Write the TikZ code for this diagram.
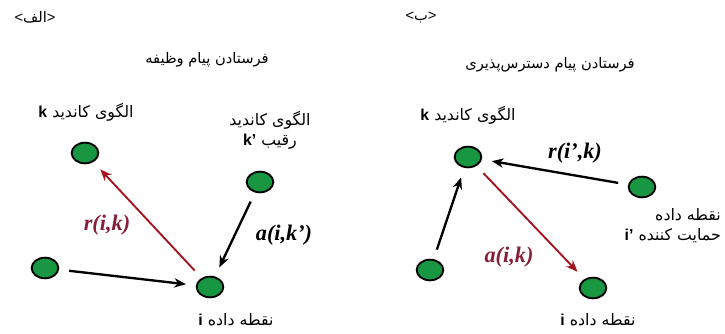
\documentclass[tikz,border=0pt]{standalone}
\usepackage{fontspec}
\setmainfont{Liberation Sans}
\newfontfamily\fafont[Script=Arabic]{DejaVu Sans}
\newfontfamily\lblfont{Liberation Serif}
\TeXXeTstate=1
\usetikzlibrary{shapes.geometric, arrows.meta}
\definecolor{ptgreen}{RGB}{25, 150, 65}
\definecolor{msgred}{RGB}{165, 20, 30}
\definecolor{lblred}{RGB}{135, 30, 55}

\begin{document}
\begin{tikzpicture}[x=0.03cm, y=-0.03cm,
  datapt/.style={ellipse, draw=black, line width=1.6pt, fill=ptgreen,
    minimum width=0.8cm, minimum height=0.62cm, inner sep=0pt},
  msg/.style={-{Stealth[length=10pt, width=8pt]}, line width=2pt,
    shorten <=0.3cm, shorten >=0.3cm},
  fa/.style={font=\fafont\fontsize{13.5}{17}\selectfont},
  ttl/.style={font=\fafont\fontsize{12.5}{15}\selectfont},
  frm/.style={font=\lblfont\bfseries\itshape\fontsize{19}{22}\selectfont}]
\useasboundingbox (0,0) rectangle (725,333);

% Panel (a): responsibility
\node[ttl] (tagA) at (35,17) {{\normalfont<}\beginR الف\endR{\normalfont>}};
\node[ttl] (titleA) at (207,60) {\beginR فرستادن پیام وظیفه\endR};

\node[datapt] (kA) at (85,153) {};
\node[datapt] (kpA) at (260,182) {};
\node[datapt] (oA) at (45,268) {};
\node[datapt] (iA) at (210,287) {};

\draw[msg, msgred, line width=1.6pt] (iA) -- (kA);
\draw[msg] (kpA) -- (iA);
\draw[msg] (oA) -- (iA);

% Labels
\node[fa] (kAlbl) at (86,112) {\beginR الگوی کاندید {\normalfont\bfseries k}\endR};
\node[fa, align=center] (kpAlbl) at (270,130)
  {\beginR الگوی کاندید\endR\\ \beginR رقیب {\normalfont\bfseries\beginL k’\endL}\endR};
\node[fa] (iAlbl) at (236,320) {\beginR نقطه داده {\normalfont\bfseries i}\endR};
\node[frm, lblred] (rA) at (107,225) {r(i,k)};
\node[frm] (aA) at (284,235) {a(i,k’)};

% Panel (b): availability
\node[ttl] (tagB) at (421,17) {{\normalfont<}\beginR ب\endR{\normalfont>}};
\node[ttl] (titleB) at (550,65) {\beginR فرستادن پیام دسترس‌پذیری\endR};

\node[datapt] (kB) at (468,157) {};
\node[datapt] (ipB) at (642,187) {};
\node[datapt] (oB) at (430,270) {};
\node[datapt] (iB) at (593,288) {};

\draw[msg] (ipB) -- (kB);
\draw[msg] (oB) -- (kB);
\draw[msg, msgred, line width=1.6pt] (kB) -- (iB);

% Labels
\node[fa] (kBlbl) at (468,115) {\beginR الگوی کاندید {\normalfont\bfseries k}\endR};
\node[fa, align=right, anchor=east] (ipBlbl) at (725,226)
  {\beginR نقطه داده\endR\\ \beginR حمایت کننده {\normalfont\bfseries\beginL i’\endL}\endR};
\node[fa] (iBlbl) at (598,320) {\beginR نقطه داده {\normalfont\bfseries i}\endR};
\node[frm] (rB) at (575,153) {r(i’,k)};
\node[frm, lblred] (aB) at (509,257) {a(i,k)};
\end{tikzpicture}
\end{document}
